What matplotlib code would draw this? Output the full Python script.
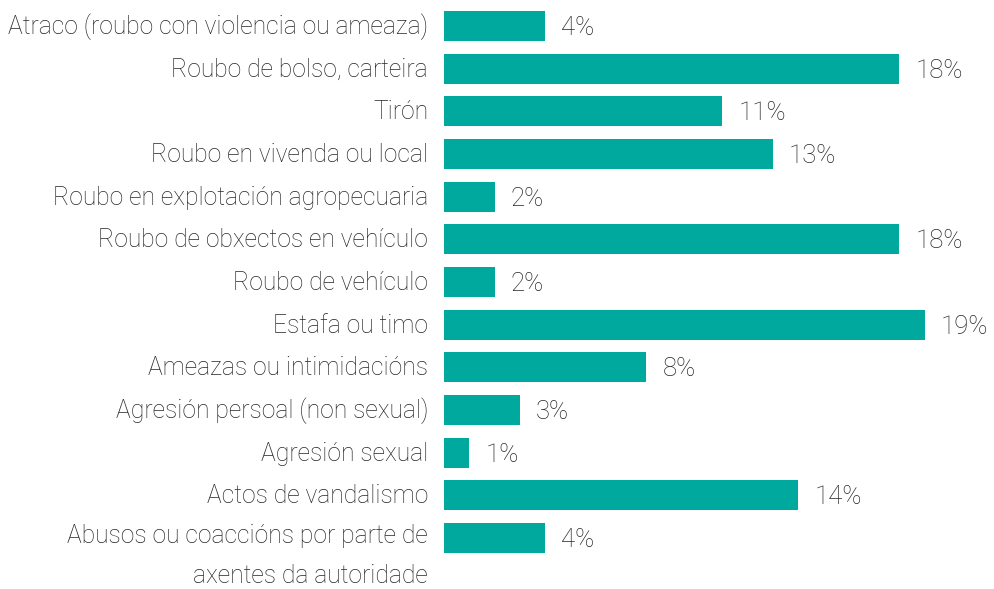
import matplotlib
matplotlib.use("Agg")
import matplotlib.pyplot as plt

categories = [
    "Atraco (roubo con violencia ou ameaza)",
    "Roubo de bolso, carteira",
    "Tirón",
    "Roubo en vivenda ou local",
    "Roubo en explotación agropecuaria",
    "Roubo de obxectos en vehículo",
    "Roubo de vehículo",
    "Estafa ou timo",
    "Ameazas ou intimidacións",
    "Agresión persoal (non sexual)",
    "Agresión sexual",
    "Actos de vandalismo",
    "Abusos ou coaccións por parte de\naxentes da autoridade",
]
values = [4, 18, 11, 13, 2, 18, 2, 19, 8, 3, 1, 14, 4]
value_labels = [f"{v}%" for v in values]

BAR = "#00A99D"
TXT = "#262626"
FONT = "Roboto"
FS = 17.7

fig = plt.figure(figsize=(9.94, 5.89), dpi=100)
ax = fig.add_axes([444/994, (589-559.3)/589, 550/994, (559.3-4.7)/589])
y = list(range(len(categories)))
ax.barh(y, values, height=0.70, color=BAR)
ax.set_ylim(len(categories)-0.5, -0.5)
ax.set_xlim(0, 21.74)
ax.axis("off")

for yi, v, lab in zip(y, values, value_labels):
    ax.annotate(lab, xy=(v, yi), xytext=(16, -2), textcoords="offset pixels",
                ha="left", va="center", fontsize=FS + 0.8, color=TXT, family=FONT,
                fontweight="light", annotation_clip=False)

for yi, cat in zip(y, categories):
    if "\n" in cat:
        ax.annotate(cat, xy=(0, yi), xycoords=("axes fraction", "data"),
                    xytext=(-16, 14), textcoords="offset pixels", ha="right", va="top",
                    fontsize=FS, color=TXT, family=FONT, fontweight="light",
                    linespacing=1.85, annotation_clip=False)
    else:
        ax.annotate(cat, xy=(0, yi), xycoords=("axes fraction", "data"),
                    xytext=(-16, -1), textcoords="offset pixels", ha="right", va="center",
                    fontsize=FS, color=TXT, family=FONT, fontweight="light",
                    annotation_clip=False)

fig.savefig("out.png", dpi=100)
